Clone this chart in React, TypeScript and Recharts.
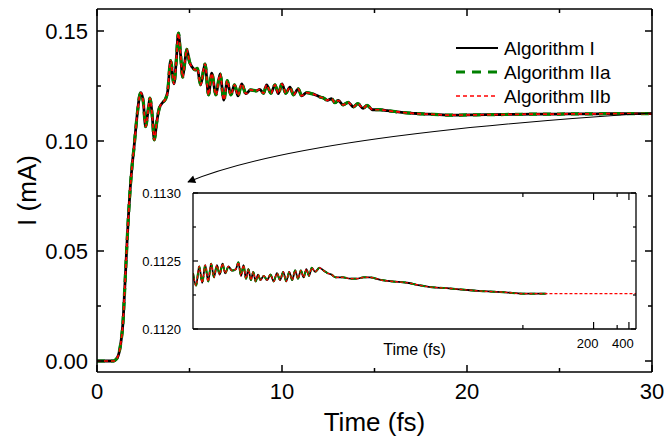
import React from 'react';
import { LineChart, Line, XAxis, YAxis, Legend } from 'recharts';

// main panel: time (fs) and current (mA); the three algorithms overlap here
const mainTime = [
  0, 0.5, 0.9, 1.0, 1.1, 1.2, 1.3, 1.4, 1.5, 1.6, 1.7, 1.8, 1.9, 2.0, 2.1, 2.2, 2.3, 2.38,
  2.5, 2.63, 2.75, 2.86, 2.98, 3.1, 3.22, 3.37, 3.55, 3.7, 3.82, 3.98, 4.16, 4.28, 4.4, 4.52,
  4.63, 4.75, 4.85, 5.0, 5.15, 5.3, 5.42, 5.6, 5.84, 6.03, 6.2, 6.43, 6.65, 6.86, 7.04, 7.23,
  7.44, 7.62, 7.82, 8.05, 8.3, 8.6, 8.8, 9.0, 9.17, 9.4, 9.62, 9.8, 10.0, 10.2, 10.43, 10.62,
  10.88, 11.06, 11.33, 11.6, 11.85, 12.05, 12.25, 12.45, 12.68, 12.86, 13.05, 13.3, 13.58,
  13.86, 14.1, 14.38, 14.6, 14.9, 15.3, 15.7, 16.1, 16.6, 17.1, 17.6, 18.2, 18.9, 19.6, 20.5,
  21.5, 22.5, 23.5, 24.5, 25.5, 26.5, 27.5, 28.5, 30,
];
const mainCurrent = [
  0, 0, 0, 0.0005, 0.0015, 0.004, 0.009, 0.017, 0.033, 0.05, 0.066, 0.079, 0.089, 0.097, 0.106,
  0.114, 0.1205, 0.122, 0.118, 0.1065, 0.113, 0.1195, 0.112, 0.1005, 0.108, 0.115, 0.1175,
  0.119, 0.1225, 0.1365, 0.126, 0.136, 0.149, 0.139, 0.129, 0.136, 0.1417, 0.136, 0.1335,
  0.1323, 0.133, 0.1255, 0.135, 0.121, 0.1308, 0.121, 0.1305, 0.1186, 0.1274, 0.121, 0.1255,
  0.1205, 0.126, 0.1215, 0.1232, 0.1228, 0.1235, 0.1217, 0.1255, 0.1217, 0.1255, 0.1215, 0.126,
  0.1217, 0.1245, 0.121, 0.1237, 0.1205, 0.122, 0.1215, 0.1208, 0.12, 0.1195, 0.1185, 0.1192,
  0.1174, 0.1184, 0.1164, 0.1176, 0.1155, 0.117, 0.1148, 0.1162, 0.1142, 0.1142, 0.1138,
  0.1134, 0.1129, 0.1126, 0.1123, 0.1121, 0.1118, 0.1118, 0.1119, 0.112, 0.1121, 0.1122,
  0.1122, 0.1123, 0.1123, 0.1124, 0.1124, 0.1124,
];

// inset: later times, zoomed current
const insetTime = [
  30.0, 30.2, 30.4, 30.6, 30.8, 31.0, 31.2, 31.4, 31.6, 31.8, 32.0, 32.2, 32.45, 32.7, 33.0,
  33.2, 33.4, 33.6, 33.8, 34.0, 34.2, 34.4, 34.6, 34.8, 35.0, 35.3, 35.6, 35.9, 36.2, 36.5,
  36.8, 37.1, 37.4, 37.7, 38.0, 38.3, 38.6, 38.9, 39.2, 39.5, 39.8, 40.1, 40.5, 41.0, 41.5,
  42.0, 42.5, 43.0, 44.0, 45.0, 46.0, 47.0, 48.0, 50.0, 52.0, 55.0, 58.0, 60.0, 65.0, 70.0,
  76.0, 89.0, 100, 120,
];
const insetCurrent = [
  0.11241, 0.11232, 0.11246, 0.11234, 0.11247, 0.11235, 0.11248, 0.11238, 0.11247, 0.1124,
  0.11248, 0.11241, 0.11246, 0.11243, 0.11244, 0.11249, 0.11239, 0.11247, 0.11237, 0.11244,
  0.11236, 0.11242, 0.11235, 0.1124, 0.11236, 0.11239, 0.11236, 0.1124, 0.11235, 0.11241,
  0.11236, 0.11242, 0.11235, 0.11242, 0.11236, 0.11243, 0.11237, 0.11243, 0.11238, 0.11244,
  0.11239, 0.11245, 0.11242, 0.11245, 0.11243, 0.11241, 0.1124, 0.11238, 0.11238, 0.11237,
  0.11237, 0.11238, 0.11238, 0.11236, 0.11235, 0.11234, 0.11232, 0.11231, 0.1123, 0.11229,
  0.11228, 0.11227, 0.11226, 0.11226,
];
// Algorithm IIb continues further
const insetTailTime = [150, 200, 300, 500];
const insetTailCurrent = [0.11226, 0.11226, 0.11226, 0.11226];

const mainXTicks = [0, 5, 10, 15, 20, 25, 30];
const mainYTicks = [0, 0.025, 0.05, 0.075, 0.1, 0.125, 0.15];
const insetXTickTimes = [100, 200, 300, 400];
const insetXLabelled = [200, 400];
const insetYTicks = [0.112, 0.11225, 0.1125, 0.11275, 0.113];

const seriesNames = ['Algorithm I', 'Algorithm IIa', 'Algorithm IIb'];

const FONT = '"Liberation Sans", Arial, Helvetica, sans-serif';

// inset uses a reciprocal time axis
const recip = (t: number) => -1000 / t;

const mainData = mainTime.map((t, i) => ({
  t,
  algI: mainCurrent[i],
  algIIa: mainCurrent[i],
  algIIb: mainCurrent[i],
}));

const insetData = [
  ...insetTime.map((t, i) => ({
    u: recip(t),
    algI: insetCurrent[i],
    algIIa: insetCurrent[i],
    algIIb: insetCurrent[i],
  })),
  ...insetTailTime.map((t, i) => ({ u: recip(t), algIIb: insetTailCurrent[i] })),
];

const near = (a: number, b: number) => Math.abs(a - b) < 1e-9;

// tick drawn inward with optional label
const makeTick = (opts: {
  side: 'bottom' | 'left' | 'top' | 'right';
  gap: number;
  major: (v: number) => boolean;
  majorLen: number;
  minorLen: number;
  label?: (v: number) => string | null;
  fontSize?: number;
  dx?: number;
  width?: number;
}) => (props: any) => {
  const { x, y, payload } = props;
  const v = payload.value;
  const isMajor = opts.major(v);
  const len = isMajor ? opts.majorLen : opts.minorLen;
  const w = opts.width || 1.5;
  const text = opts.label && isMajor ? opts.label(v) : null;
  let line;
  let lbl = null;
  if (opts.side === 'bottom') {
    const ay = y - opts.gap;
    line = <line x1={x} x2={x} y1={ay} y2={ay - len} stroke="#000" strokeWidth={w} />;
    if (text) lbl = <text x={x + (opts.dx || 0)} y={y} dy="0.71em" textAnchor="middle" fontSize={opts.fontSize} fill="#000">{text}</text>;
  } else if (opts.side === 'left') {
    const ax = x + opts.gap;
    line = <line x1={ax} x2={ax + len} y1={y} y2={y} stroke="#000" strokeWidth={w} />;
    if (text) lbl = <text x={x} y={y} dy="0.355em" textAnchor="end" fontSize={opts.fontSize} fill="#000">{text}</text>;
  } else if (opts.side === 'top') {
    const ay = y + opts.gap;
    line = <line x1={x} x2={x} y1={ay} y2={ay + len} stroke="#000" strokeWidth={w} />;
  } else {
    const ax = x - opts.gap;
    line = <line x1={ax} x2={ax - len} y1={y} y2={y} stroke="#000" strokeWidth={w} />;
  }
  return (
    <g>
      {line}
      {lbl}
    </g>
  );
};

const mainXMajor = (v: number) => v % 10 === 0;
const mainYMajor = (v: number) => near(v / 0.05, Math.round(v / 0.05));
const insetXMajor = (u: number) => insetXLabelled.some((t) => near(recip(t), u));
const insetYMajor = (v: number) => near(v * 2000, Math.round(v * 2000));

const LegendBox = () => {
  const dashes = [undefined, '9 7', '4 3'];
  const colors = ['#000000', '#008000', '#ff0000'];
  const widths = [1.8, 3, 1.5];
  return (
    <svg width={210} height={80} style={{ fontFamily: FONT }}>
      {seriesNames.map((name, i) => (
        <g key={name}>
          <line x1={6} x2={48} y1={12 + i * 24} y2={12 + i * 24} stroke={colors[i]} strokeWidth={widths[i]} strokeDasharray={dashes[i]} />
          <text x={54} y={12 + i * 24} dy="0.355em" fontSize={19} fill="#000">
            {name}
          </text>
        </g>
      ))}
    </svg>
  );
};

export default function App() {
  return (
    <div style={{ position: 'absolute', left: 0, top: 0, width: 666, height: 439, fontFamily: FONT, background: '#fff' }}>
      <div style={{ position: 'absolute', left: 0, top: 0 }}>
        <LineChart width={666} height={439} data={mainData} margin={{ top: 8, right: 13, left: 0, bottom: 0 }}>
          <XAxis
            dataKey="t"
            type="number"
            domain={[0, 30]}
            ticks={mainXTicks}
            interval={0}
            height={67}
            tickSize={0}
            tickMargin={11}
            axisLine={{ stroke: '#000', strokeWidth: 1.6 }}
            tickLine={false}
            tick={makeTick({ side: 'bottom', gap: 11, major: mainXMajor, majorLen: 7, minorLen: 4, label: (v) => String(v), fontSize: 22 })}
            label={{ value: 'Time (fs)', position: 'insideBottom', offset: 8, fontSize: 26, fill: '#000' }}
          />
          <XAxis
            xAxisId="top"
            orientation="top"
            dataKey="t"
            type="number"
            domain={[0, 30]}
            ticks={mainXTicks}
            interval={0}
            height={1}
            tickSize={0}
            tickMargin={0}
            axisLine={{ stroke: '#000', strokeWidth: 1.6 }}
            tickLine={false}
            tick={makeTick({ side: 'top', gap: 0, major: mainXMajor, majorLen: 7, minorLen: 4 })}
          />
          <YAxis
            type="number"
            domain={[-0.005, 0.16]}
            ticks={mainYTicks}
            interval={0}
            width={97}
            tickSize={0}
            tickMargin={9}
            axisLine={{ stroke: '#000', strokeWidth: 1.6 }}
            tickLine={false}
            tick={makeTick({ side: 'left', gap: 9, major: mainYMajor, majorLen: 7, minorLen: 4, label: (v) => v.toFixed(2), fontSize: 22 })}
            label={{ value: 'I (mA)', angle: -90, position: 'insideLeft', offset: 27, fontSize: 26, fill: '#000', style: { textAnchor: 'middle' } }}
          />
          <YAxis
            yAxisId="right"
            orientation="right"
            type="number"
            domain={[-0.005, 0.16]}
            ticks={mainYTicks}
            interval={0}
            width={1}
            tickSize={0}
            tickMargin={0}
            axisLine={{ stroke: '#000', strokeWidth: 1.6 }}
            tickLine={false}
            tick={makeTick({ side: 'right', gap: 0, major: mainYMajor, majorLen: 7, minorLen: 4 })}
          />
          <Legend
            layout="vertical"
            align="center"
            verticalAlign="middle"
            wrapperStyle={{ left: 450, top: 36, width: 210 }}
            content={() => <LegendBox />}
          />
          <Line type="monotone" dataKey="algI" name={seriesNames[0]} stroke="#000000" strokeWidth={2.8} dot={false} isAnimationActive={false} />
          <Line type="monotone" dataKey="algIIa" name={seriesNames[1]} xAxisId="top" yAxisId="right" stroke="#008000" strokeWidth={3.2} strokeDasharray="8 6" dot={false} isAnimationActive={false} />
          <Line type="monotone" dataKey="algIIb" name={seriesNames[2]} stroke="#ff0000" strokeWidth={1.7} strokeDasharray="4 3" dot={false} isAnimationActive={false} />
        </LineChart>
      </div>

      <svg width={666} height={439} style={{ position: 'absolute', left: 0, top: 0, pointerEvents: 'none' }}>
        <defs>
          <marker id="arrowHead" viewBox="0 0 10 10" refX="9" refY="5" markerWidth="9" markerHeight="8" orient="auto" markerUnits="userSpaceOnUse">
            <path d="M0,0 L10,5 L0,10 z" fill="#000" />
          </marker>
        </defs>
        <path d="M652,113 Q300,135 188,182" fill="none" stroke="#000" strokeWidth={1.1} markerEnd="url(#arrowHead)" />
      </svg>

      <div style={{ position: 'absolute', left: 0, top: 0 }}>
        <LineChart width={666} height={439} data={insetData} margin={{ top: 192, right: 29, left: 0, bottom: 0 }}>
          <XAxis
            dataKey="u"
            type="number"
            domain={[recip(30), recip(500)]}
            allowDataOverflow
            ticks={insetXTickTimes.map(recip)}
            interval={0}
            height={110}
            tickSize={0}
            tickMargin={10}
            axisLine={{ stroke: '#000', strokeWidth: 1.3 }}
            tickLine={false}
            tick={makeTick({ side: 'bottom', gap: 10, major: insetXMajor, majorLen: 7, minorLen: 4, label: (u) => String(Math.round(-1000 / u)), fontSize: 13, dx: -6, width: 1.2 })}
            label={{ value: 'Time (fs)', position: 'insideTop', offset: 15, fontSize: 16, fill: '#000' }}
          />
          <XAxis
            xAxisId="top"
            orientation="top"
            dataKey="u"
            type="number"
            domain={[recip(30), recip(500)]}
            allowDataOverflow
            ticks={insetXTickTimes.map(recip)}
            interval={0}
            height={1}
            tickSize={0}
            tickMargin={0}
            axisLine={{ stroke: '#000', strokeWidth: 1.3 }}
            tickLine={false}
            tick={makeTick({ side: 'top', gap: 0, major: insetXMajor, majorLen: 7, minorLen: 4, width: 1.2 })}
          />
          <YAxis
            type="number"
            domain={[0.112, 0.113]}
            allowDataOverflow
            ticks={insetYTicks}
            interval={0}
            width={193}
            tickSize={0}
            tickMargin={12}
            axisLine={{ stroke: '#000', strokeWidth: 1.3 }}
            tickLine={false}
            tick={makeTick({ side: 'left', gap: 12, major: insetYMajor, majorLen: 5, minorLen: 3, label: (v) => v.toFixed(4), fontSize: 13, width: 1.2 })}
          />
          <YAxis
            yAxisId="right"
            orientation="right"
            type="number"
            domain={[0.112, 0.113]}
            allowDataOverflow
            ticks={insetYTicks}
            interval={0}
            width={1}
            tickSize={0}
            tickMargin={0}
            axisLine={{ stroke: '#000', strokeWidth: 1.3 }}
            tickLine={false}
            tick={makeTick({ side: 'right', gap: 0, major: insetYMajor, majorLen: 5, minorLen: 3, width: 1.2 })}
          />
          <Line type="monotone" dataKey="algI" stroke="#000000" strokeWidth={1.8} dot={false} isAnimationActive={false} />
          <Line type="monotone" dataKey="algIIa" xAxisId="top" yAxisId="right" stroke="#008000" strokeWidth={2} strokeDasharray="6 4" dot={false} isAnimationActive={false} />
          <Line type="monotone" dataKey="algIIb" stroke="#ff0000" strokeWidth={1.2} strokeDasharray="3 2" dot={false} isAnimationActive={false} />
        </LineChart>
      </div>
    </div>
  );
}
